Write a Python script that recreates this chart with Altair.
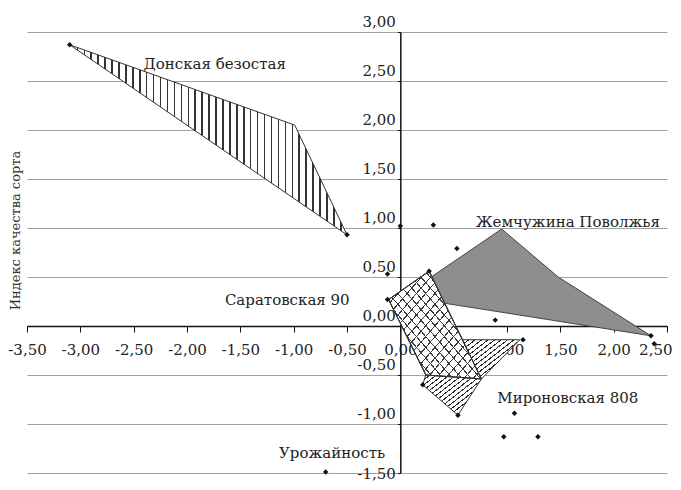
import altair as alt
import pandas as pd

# ---- data ----
don_x = [-3.10, -0.99, -0.50]
don_y = [2.87, 2.05, 0.93]

zhem_x = [0.02, 0.95, 1.48, 2.35]
zhem_y = [0.30, 0.99, 0.50, -0.10]

sar_x = [0.27, -0.11, 0.24, 0.76]
sar_y = [0.56, 0.27, -0.50, -0.54]

mir_x = [0.21, 0.24, 0.55, 1.12, 0.76, 0.54]
mir_y = [-0.60, -0.49, -0.14, -0.14, -0.54, -0.91]

pt_x = [-3.10, -0.50, 0.00, 0.31, 0.53, 0.27, -0.12, -0.12, 0.89, 1.15, 2.35, 2.38, 0.21, 0.54, 1.07, 0.97, 1.29, -0.70]
pt_y = [2.87, 0.93, 1.02, 1.03, 0.79, 0.56, 0.53, 0.27, 0.06, -0.14, -0.10, -0.18, -0.60, -0.91, -0.89, -1.13, -1.13, -1.49]

lab_text = ["Донская безостая", "Жемчужина Поволжья", "Саратовская 90", "Мироновская 808", "Урожайность"]
lab_x = [-1.74, 1.57, -1.06, 1.57, -0.64]
lab_y = [2.67, 1.06, 0.27, -0.73, -1.30]

x_ticks = [-3.5, -3.0, -2.5, -2.0, -1.5, -1.0, -0.5, 0.0, 0.5, 1.0, 1.5, 2.0, 2.5]
y_ticks = [-1.5, -1.0, -0.5, 0.0, 0.5, 1.0, 1.5, 2.0, 2.5, 3.0]
y_title = "Индекс качества сорта"

# ---- layout ----
W, H = 640, 441
XMIN, XMAX = -3.5, 2.5
YMIN, YMAX = -1.5, 3.0
x_off = -H * (0 - YMIN) / (YMAX - YMIN)
y_off = -W * (0 - XMIN) / (XMAX - XMIN)
FONT = "DejaVu Serif"
label_expr = "replace(replace(format(datum.value, '.2f'), '.', ','), '\u2212', '-')"


def poly_df(xs, ys):
    xs2 = list(xs) + [xs[0]]
    ys2 = list(ys) + [ys[0]]
    return pd.DataFrame({"x": xs2, "y": ys2, "i": range(len(xs2))})


def stripes(n, x1, y1, x2, y2, line="#1a1a1a", gap="#ffffff", duty=0.2):
    stops = []
    for k in range(n):
        a = k / n
        b = (k + duty) / n
        c = (k + 1) / n
        stops += [
            {"offset": a, "color": line},
            {"offset": b, "color": line},
            {"offset": b, "color": gap},
            {"offset": c, "color": gap},
        ]
    return {"gradient": "linear", "x1": x1, "y1": y1, "x2": x2, "y2": y2, "stops": stops}


x_enc = alt.X(
    "x:Q",
    scale=alt.Scale(domain=[XMIN, XMAX], nice=False, zero=False),
    axis=alt.Axis(
        values=x_ticks, offset=x_off, grid=False, tickSize=6, labelPadding=10,
        labelExpr=label_expr, domainColor="#111", domainWidth=1.5, tickColor="#111",
        labelFont=FONT, labelFontSize=15, labelColor="#222", title=None,
        labelAlign={"condition": {"test": "datum.value == 2.5", "value": "right"}, "value": "center"},
        labelOffset={"condition": {"test": "datum.value == 2.5", "value": 5}, "value": 0},
        labelFlush=False, labelOverlap=False,
    ),
)
y_enc = alt.Y(
    "y:Q",
    scale=alt.Scale(domain=[YMIN, YMAX], nice=False, zero=False),
    axis=alt.Axis(
        values=y_ticks, offset=y_off, grid=True, gridColor="#a0a0a0", gridWidth=1,
        tickSize=3, labelPadding=2,
        labelBaseline={"condition": {"test": "datum.value == -1.5", "value": "middle"}, "value": "bottom"},
        labelOffset={"condition": {"test": "datum.value == -1.5", "value": 0}, "value": -3},
        labelExpr=label_expr, domainColor="#111", domainWidth=1.5, tickColor="#111",
        labelFont=FONT, labelFontSize=15, labelColor="#222",
        title=y_title, titleAngle=270, titleX=y_off - 12, titleY=198,
        titleAlign="center", titleBaseline="middle", titleFont=FONT,
        titleFontSize=13, titleFontWeight="normal", titleColor="#333",
        labelFlush=False, labelOverlap=False,
    ),
)


def poly_layer(xs, ys, fill, stroke="#333", sw=1.0):
    return alt.Chart(poly_df(xs, ys)).mark_line(
        fill=fill, stroke=stroke, strokeWidth=sw, strokeJoin="miter"
    ).encode(x=x_enc, y=y_enc, order="i:Q")


zhem = poly_layer(zhem_x, zhem_y, "#8e8e8e", stroke="#444")
mir = poly_layer(mir_x, mir_y, stripes(30, 0, 0, 1, 1, line="#2a2a2a", duty=0.25))
sar_base = poly_layer(sar_x, sar_y, "#ffffff")
sar_h1 = poly_layer(sar_x, sar_y, stripes(20, 0, 0, 1, 1, line="#3a3a3a", gap="rgba(255,255,255,0)", duty=0.14), stroke="#333")
sar_h2 = poly_layer(sar_x, sar_y, stripes(20, 1, 0, 0, 1, line="#3a3a3a", gap="rgba(255,255,255,0)", duty=0.14), stroke="#333")
don = poly_layer(don_x, don_y, stripes(40, 0, 0, 1, 0, line="#333333", duty=0.22))

points = alt.Chart(pd.DataFrame({"x": pt_x, "y": pt_y})).mark_point(
    shape="diamond", filled=True, size=30, color="#111", opacity=1
).encode(x=x_enc, y=y_enc)

labels = alt.Chart(pd.DataFrame({"x": lab_x, "y": lab_y, "t": lab_text})).mark_text(
    font=FONT, fontSize=15, color="#222", align="center", baseline="middle"
).encode(x=x_enc, y=y_enc, text="t:N")

chart = alt.layer(zhem, mir, sar_base, sar_h1, sar_h2, don, points, labels).properties(
    width=W, height=H,
    autosize=alt.AutoSizeParams(type="none"),
    padding={"left": 19, "top": 24, "right": 6, "bottom": 9},
    background="white",
).configure_view(stroke=None)

chart.save("out.html", embed_options={"renderer": "svg", "actions": False})
